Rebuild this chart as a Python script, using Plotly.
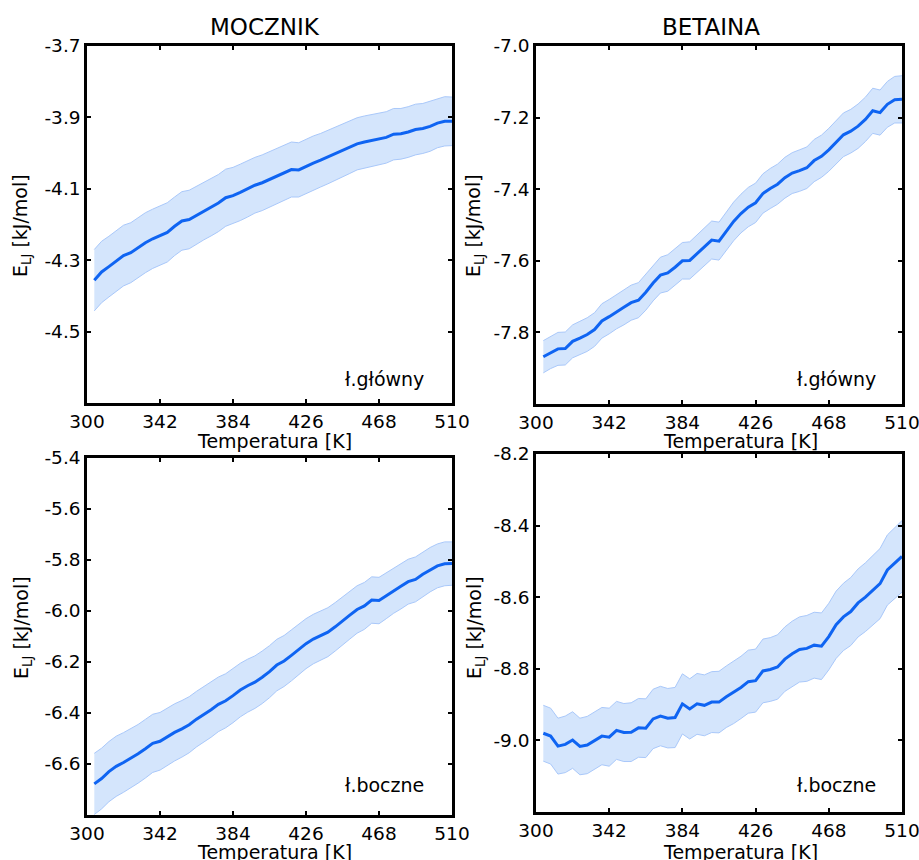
import plotly.graph_objects as go

# ---------------- data ----------------
temperature = [304.2, 308.4, 312.6, 316.8, 321.0, 325.2, 329.4, 333.6, 337.8, 342.0,
               346.2, 350.4, 354.6, 358.8, 363.0, 367.2, 371.4, 375.6, 379.8, 384.0,
               388.2, 392.4, 396.6, 400.8, 405.0, 409.2, 413.4, 417.6, 421.8, 426.0,
               430.2, 434.4, 438.6, 442.8, 447.0, 451.2, 455.4, 459.6, 463.8, 468.0,
               472.2, 476.4, 480.6, 484.8, 489.0, 493.2, 497.4, 501.6, 505.8, 510.0]

mocznik_glowny = [-4.356, -4.333, -4.318, -4.302, -4.287, -4.279, -4.264, -4.251, -4.240, -4.230,
                  -4.222, -4.205, -4.190, -4.186, -4.174, -4.162, -4.152, -4.140, -4.125, -4.119,
                  -4.110, -4.100, -4.090, -4.083, -4.074, -4.064, -4.055, -4.046, -4.047, -4.037,
                  -4.028, -4.020, -4.011, -4.002, -3.993, -3.983, -3.974, -3.969, -3.965, -3.960,
                  -3.956, -3.947, -3.946, -3.941, -3.934, -3.931, -3.925, -3.916, -3.911, -3.911]
mocznik_glowny_err = [0.086, 0.086, 0.085, 0.085, 0.085, 0.084, 0.084, 0.084, 0.083, 0.083,
                      0.083, 0.082, 0.082, 0.082, 0.081, 0.081, 0.080, 0.080, 0.080, 0.079,
                      0.079, 0.079, 0.078, 0.078, 0.078, 0.077, 0.077, 0.077, 0.076, 0.076,
                      0.076, 0.075, 0.075, 0.075, 0.074, 0.074, 0.073, 0.073, 0.073, 0.072,
                      0.072, 0.072, 0.071, 0.071, 0.071, 0.070, 0.070, 0.069, 0.069, 0.068]

betaina_glowny = [-7.868, -7.856, -7.846, -7.845, -7.825, -7.816, -7.806, -7.792, -7.768, -7.756,
                  -7.742, -7.730, -7.717, -7.710, -7.688, -7.662, -7.640, -7.634, -7.618, -7.600,
                  -7.599, -7.580, -7.560, -7.542, -7.545, -7.518, -7.490, -7.468, -7.450, -7.438,
                  -7.412, -7.398, -7.386, -7.368, -7.355, -7.348, -7.340, -7.320, -7.308, -7.290,
                  -7.268, -7.248, -7.238, -7.224, -7.205, -7.181, -7.186, -7.163, -7.150, -7.149]
betaina_glowny_err = [0.045, 0.045, 0.046, 0.046, 0.046, 0.047, 0.047, 0.047, 0.048, 0.048,
                      0.048, 0.049, 0.049, 0.049, 0.050, 0.050, 0.050, 0.051, 0.051, 0.051,
                      0.052, 0.052, 0.052, 0.053, 0.053, 0.053, 0.054, 0.054, 0.055, 0.055,
                      0.055, 0.056, 0.056, 0.057, 0.057, 0.058, 0.058, 0.059, 0.059, 0.060,
                      0.060, 0.061, 0.061, 0.062, 0.062, 0.063, 0.063, 0.064, 0.065, 0.066]

mocznik_boczne = [-6.678, -6.657, -6.630, -6.609, -6.594, -6.578, -6.560, -6.540, -6.519, -6.511,
                  -6.493, -6.476, -6.462, -6.446, -6.424, -6.406, -6.387, -6.366, -6.352, -6.332,
                  -6.310, -6.293, -6.279, -6.260, -6.238, -6.212, -6.196, -6.174, -6.152, -6.128,
                  -6.110, -6.097, -6.083, -6.062, -6.038, -6.016, -5.994, -5.980, -5.957, -5.959,
                  -5.940, -5.920, -5.903, -5.885, -5.876, -5.856, -5.838, -5.823, -5.815, -5.814]
mocznik_boczne_err = [0.120, 0.119, 0.118, 0.118, 0.117, 0.116, 0.115, 0.115, 0.114, 0.113,
                      0.112, 0.112, 0.111, 0.110, 0.109, 0.109, 0.108, 0.107, 0.106, 0.106,
                      0.105, 0.104, 0.103, 0.103, 0.102, 0.101, 0.100, 0.100, 0.099, 0.098,
                      0.097, 0.097, 0.096, 0.095, 0.094, 0.094, 0.093, 0.092, 0.091, 0.091,
                      0.090, 0.089, 0.089, 0.088, 0.088, 0.087, 0.087, 0.086, 0.086, 0.085]

betaina_boczne = [-8.980, -8.988, -9.016, -9.011, -8.999, -9.017, -9.013, -9.000, -8.988, -8.991,
                  -8.972, -8.978, -8.977, -8.965, -8.966, -8.940, -8.932, -8.938, -8.936, -8.898,
                  -8.912, -8.898, -8.902, -8.893, -8.893, -8.878, -8.866, -8.852, -8.836, -8.833,
                  -8.806, -8.802, -8.795, -8.773, -8.758, -8.746, -8.743, -8.734, -8.737, -8.710,
                  -8.677, -8.655, -8.640, -8.616, -8.600, -8.582, -8.562, -8.524, -8.505, -8.486]
betaina_boczne_err = [0.078, 0.078, 0.078, 0.079, 0.079, 0.079, 0.080, 0.080, 0.080, 0.081,
                      0.081, 0.081, 0.082, 0.082, 0.082, 0.083, 0.083, 0.083, 0.084, 0.084,
                      0.084, 0.085, 0.085, 0.085, 0.086, 0.086, 0.087, 0.087, 0.088, 0.088,
                      0.089, 0.089, 0.090, 0.090, 0.091, 0.091, 0.092, 0.092, 0.093, 0.093,
                      0.094, 0.094, 0.095, 0.095, 0.096, 0.097, 0.098, 0.098, 0.099, 0.100]

x_ticks = [300, 342, 384, 426, 468, 510]
y_ticks_mg = [-3.7, -3.9, -4.1, -4.3, -4.5]
y_ticks_bg = [-7.0, -7.2, -7.4, -7.6, -7.8]
y_ticks_mb = [-5.4, -5.6, -5.8, -6.0, -6.2, -6.4, -6.6]
y_ticks_bb = [-8.2, -8.4, -8.6, -8.8, -9.0]

column_titles = ["MOCZNIK", "BETAINA"]
row_labels = ["ł.główny", "ł.boczne"]
x_title = "Temperatura [K]"
y_title = "E<sub>LJ</sub> [kJ/mol]"

# ---------------- styling ----------------
W, H = 919, 860
FONT = "DejaVu Sans"
LINE = "#0f64f2"
BAND = "rgba(205,224,252,0.85)"
EDGE = "#a9c8fa"

def fx(px):
    return px / W

def fy(py):
    return 1 - py / H

panels = [
    # (mean, err, yrange, yticks, x px domain, y px domain, axis suffix)
    (mocznik_glowny, mocznik_glowny_err, [-4.7, -3.7], y_ticks_mg, (87, 452), (46, 403), ""),
    (betaina_glowny, betaina_glowny_err, [-8.0, -7.0], y_ticks_bg, (536, 902), (46, 404), "2"),
    (mocznik_boczne, mocznik_boczne_err, [-6.8, -5.4], y_ticks_mb, (87, 452), (458, 815), "3"),
    (betaina_boczne, betaina_boczne_err, [-9.2, -8.2], y_ticks_bb, (536, 902), (454, 812), "4"),
]

fig = go.Figure()
layout_axes = {}
for mean, err, yr, yt, xd, yd, s in panels:
    upper = [m + e for m, e in zip(mean, err)]
    lower = [m - e for m, e in zip(mean, err)]
    xa, ya = "x" + s, "y" + s
    fig.add_trace(go.Scatter(x=temperature, y=lower, mode="lines",
                             line=dict(color=EDGE, width=1), xaxis=xa, yaxis=ya,
                             showlegend=False, hoverinfo="skip"))
    fig.add_trace(go.Scatter(x=temperature, y=upper, mode="lines", fill="tonexty",
                             fillcolor=BAND, line=dict(color=EDGE, width=1),
                             xaxis=xa, yaxis=ya, showlegend=False, hoverinfo="skip"))
    fig.add_trace(go.Scatter(x=temperature, y=mean, mode="lines",
                             line=dict(color=LINE, width=3), xaxis=xa, yaxis=ya,
                             showlegend=False))
    common = dict(showgrid=False, zeroline=False, showline=True, linecolor="black",
                  linewidth=2.5, mirror="ticks", ticks="inside", ticklen=4,
                  tickwidth=2, tickcolor="black", automargin=False,
                  ticklabeloverflow="allow",
                  tickfont=dict(family=FONT, size=18.5, color="black"))
    layout_axes["xaxis" + s] = dict(common, range=[300, 510], tickvals=x_ticks,
                                    ticktext=[str(v) for v in x_ticks],
                                    domain=[fx(xd[0]), fx(xd[1])],
                                    anchor="y" + s)
    layout_axes["yaxis" + s] = dict(common, range=yr, tickvals=yt,
                                    ticktext=["%.1f" % v for v in yt],
                                    domain=[fy(yd[1]), fy(yd[0])],
                                    anchor="x" + s)

fig.update_layout(**layout_axes)

annots = []
def txt(text, x, y, size=19, xanchor="center", yanchor="middle", angle=0):
    annots.append(dict(text=text, x=fx(x), y=fy(y), xref="paper", yref="paper",
                       showarrow=False, xanchor=xanchor, yanchor=yanchor,
                       textangle=angle, font=dict(family=FONT, size=size, color="black")))

txt(column_titles[0], 265, 27, size=23)
txt(column_titles[1], 711, 27, size=23)
txt(x_title, 274, 441)
txt(x_title, 740, 441)
txt(x_title, 274, 852)
txt(x_title, 740, 852)
txt(y_title, 22, 226, angle=-90)
txt(y_title, 475, 226, angle=-90)
txt(y_title, 22, 628, angle=-90)
txt(y_title, 475, 628, angle=-90)
txt(row_labels[0], 426, 379, xanchor="right")
txt(row_labels[0], 878, 379, xanchor="right")
txt(row_labels[1], 426, 785, xanchor="right")
txt(row_labels[1], 878, 785, xanchor="right")

fig.update_layout(width=W, height=H, margin=dict(l=0, r=0, t=0, b=0),
                  paper_bgcolor="white", plot_bgcolor="white",
                  font=dict(family=FONT, size=18, color="black"),
                  annotations=annots, showlegend=False)

fig.write_html("out.html", config={"displayModeBar": False},
               post_script="document.body.style.margin='0';document.body.style.overflow='hidden';")
